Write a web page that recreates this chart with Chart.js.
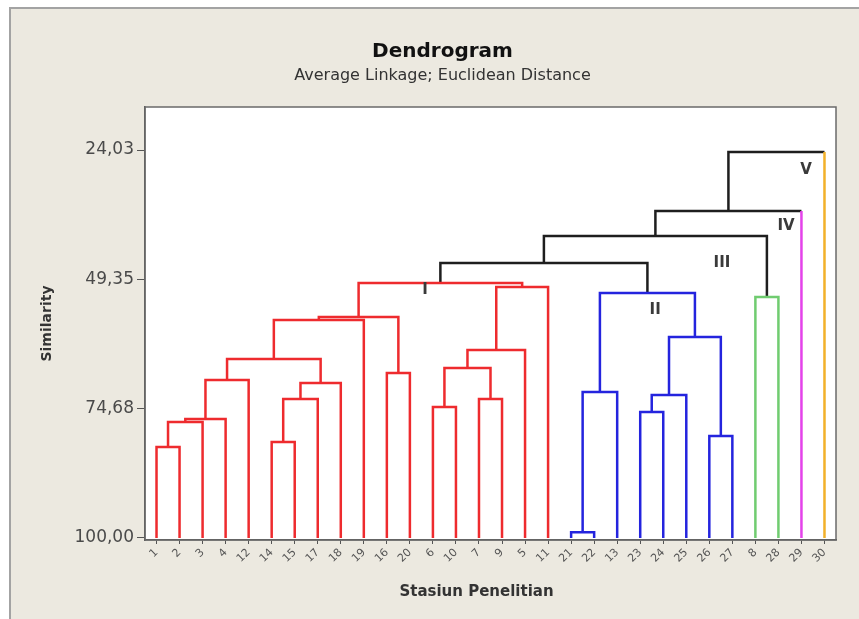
<!DOCTYPE html>
<html>
<head>
<meta charset="utf-8">
<script src="https://cdn.jsdelivr.net/npm/chart.js@4"></script>
<style>
  html, body { margin: 0; padding: 0; background: #fff; overflow: hidden; width: 859px; height: 619px; }
  #panel { position: absolute; left: 9px; top: 7px; width: 848px; height: 610px; background: #ECE9E0; border-left: 2px solid #A3A3A3; border-top: 2px solid #A3A3A3; }
  #wrap { position: absolute; left: 0; top: 0; width: 859px; height: 619px; }
</style>
</head>
<body>
<div id="panel"></div>
<div id="wrap"><canvas id="chart" width="859" height="619"></canvas></div>
<script>
// --- Data (leaf order, left to right) ---
const stations = ['1', '2', '3', '4', '12', '14', '15', '17', '18', '19', '16', '20', '6', '10', '7',
                  '9', '5', '11', '21', '22', '13', '23', '24', '25', '26', '27', '8', '28', '29', '30'];
const leafGroup = ['I', 'I', 'I', 'I', 'I', 'I', 'I', 'I', 'I', 'I', 'I', 'I', 'I', 'I', 'I',
                   'I', 'I', 'I', 'II', 'II', 'II', 'II', 'II', 'II', 'II', 'II', 'III', 'III', 'IV', 'V'];

// linkage: children < 30 are leaves, >= 30 are earlier merges (30 + row)
const mergeLeft  = [0, 30, 31, 32, 5, 34, 35, 33, 37, 10, 38, 12, 14, 41, 43, 44, 40,
                    18, 47, 21, 49, 24, 50, 48, 26, 46, 55, 56, 57];
const mergeRight = [1, 2, 3, 4, 6, 7, 8, 36, 9, 11, 39, 13, 15, 42, 16, 17, 45,
                    19, 20, 22, 23, 25, 51, 52, 27, 53, 54, 28, 29];
const mergeSimilarity = [82.19, 77.29, 76.70, 69.07, 81.21, 72.79, 69.65, 64.95, 57.32, 67.70, 56.73,
                         74.35, 72.79, 66.72, 63.19, 50.86, 50.07,
                         98.90, 71.42, 75.33, 72.00, 80.03, 60.65, 52.03,
                         52.81, 46.16, 40.87, 35.97, 24.42];
const mergeGroup = ['I', 'I', 'I', 'I', 'I', 'I', 'I', 'I', 'I', 'I', 'I', 'I', 'I', 'I', 'I', 'I', 'I',
                    'II', 'II', 'II', 'II', 'II', 'II', 'II', 'III', 'top', 'top', 'top', 'top'];

const yTicks = [24.03, 49.35, 74.68, 100.00];

const clusterLabels = ['I', 'II', 'III', 'IV', 'V'];
const clusterLabelX = [11.66, 21.65, 24.55, 27.33, 28.2];
const clusterLabelY = [51.44, 55.36, 46.16, 38.91, 27.95];

const chartTitle = 'Dendrogram';
const chartSubtitle = 'Average Linkage; Euclidean Distance';
const xTitle = 'Stasiun Penelitian';

const groupColors = { I: '#EE2B2E', II: '#2424DE', III: '#70CC70', IV: '#E443EA', V: '#F2B12A', top: '#1E1E1E' };

// --- Node positions ---
const n = stations.length;
const nodeX = stations.map((_, i) => i);
const nodeH = stations.map(() => 100);
mergeLeft.forEach((l, k) => {
    nodeX.push((nodeX[l] + nodeX[mergeRight[k]]) / 2);
    nodeH.push(mergeSimilarity[k]);
});

const datasets = mergeLeft.map((l, k) => {
    const r = mergeRight[k];
    const h = mergeSimilarity[k];
    const own = groupColors[mergeGroup[k]];
    const legColor = c => (c < n ? groupColors[leafGroup[c]] : own);
    const colors = [legColor(l), own, legColor(r)];
    return {
        data: [
            { x: nodeX[l], y: nodeH[l] },
            { x: nodeX[l], y: h },
            { x: nodeX[r], y: h },
            { x: nodeX[r], y: nodeH[r] }
        ],
        showLine: true,
        pointRadius: 0,
        borderWidth: 2.5,
        borderColor: own,
        borderJoinStyle: 'miter',
        segment: { borderColor: ctx => colors[ctx.p0DataIndex] }
    };
});

// --- Plugins ---
const plotFrame = {
    id: 'plotFrame',
    beforeDraw(chart) {
        const { ctx, chartArea: a } = chart;
        ctx.save();
        ctx.fillStyle = '#fff';
        ctx.fillRect(a.left, a.top, a.right - a.left, a.bottom - a.top);
        // headings (centred on the panel, a bit left of the plot centre)
        const cx = (a.left + a.right) / 2 - 48;
        ctx.textAlign = 'center';
        ctx.textBaseline = 'middle';
        ctx.fillStyle = '#111';
        ctx.font = 'bold 20px "DejaVu Sans"';
        ctx.fillText(chartTitle, cx, 52);
        ctx.fillStyle = '#333';
        ctx.font = '16px "DejaVu Sans"';
        ctx.fillText(chartSubtitle, cx, 76);
        ctx.font = 'bold 15px "DejaVu Sans"';
        ctx.fillText(xTitle, (a.left + a.right) / 2 - 14, 592);
        ctx.restore();
    },
    afterDatasetsDraw(chart) {
        const { ctx, chartArea: a, scales } = chart;
        ctx.save();
        ctx.strokeStyle = '#6A6A6A';
        ctx.lineWidth = 1.5;
        ctx.strokeRect(a.left, a.top, a.right - a.left, a.bottom - a.top);
        ctx.font = 'bold 15px "DejaVu Sans"';
        ctx.fillStyle = '#3A3A3A';
        ctx.textAlign = 'center';
        ctx.textBaseline = 'middle';
        clusterLabels.forEach((t, i) => {
            ctx.fillText(t, scales.x.getPixelForValue(clusterLabelX[i]), scales.y.getPixelForValue(clusterLabelY[i]));
        });
        ctx.restore();
    }
};

new Chart(document.getElementById('chart'), {
    type: 'scatter',
    data: { datasets },
    options: {
        responsive: false,
        animation: false,
        layout: { padding: { left: 10, right: 23, top: 107, bottom: 0 } },
        plugins: {
            legend: { display: false },
            tooltip: { enabled: false }
        },
        scales: {
            x: {
                type: 'linear',
                min: -0.5,
                max: 29.5,
                afterFit: s => { s.height = 79; },
                afterBuildTicks: s => { s.ticks = stations.map((_, i) => ({ value: i })); },
                ticks: {
                    autoSkip: false,
                    minRotation: 45,
                    maxRotation: 45,
                    padding: 2,
                    color: '#555',
                    font: { family: 'DejaVu Sans', size: 11 },
                    callback: v => stations[v]
                },
                grid: { drawOnChartArea: false, tickLength: 4, color: '#555' },
                border: { color: '#555', width: 1.5 }
            },
            y: {
                type: 'linear',
                reverse: true,
                min: 15.6,
                max: 100.4,
                afterFit: s => { s.width = 135; },
                afterBuildTicks: s => { s.ticks = yTicks.map(v => ({ value: v })); },
                ticks: {
                    color: '#4A4A4A',
                    padding: 3,
                    font: { family: 'DejaVu Sans', size: 17 },
                    callback: v => v.toFixed(2).replace('.', ',')
                },
                grid: { drawOnChartArea: false, tickLength: 8, color: '#555' },
                border: { color: '#555', width: 1.5 },
                title: {
                    display: true,
                    text: 'Similarity',
                    color: '#333',
                    font: { family: 'DejaVu Sans', size: 14, weight: 'bold' },
                    padding: { top: 29, bottom: 0 }
                }
            }
        }
    },
    plugins: [plotFrame]
});
</script>
</body>
</html>
